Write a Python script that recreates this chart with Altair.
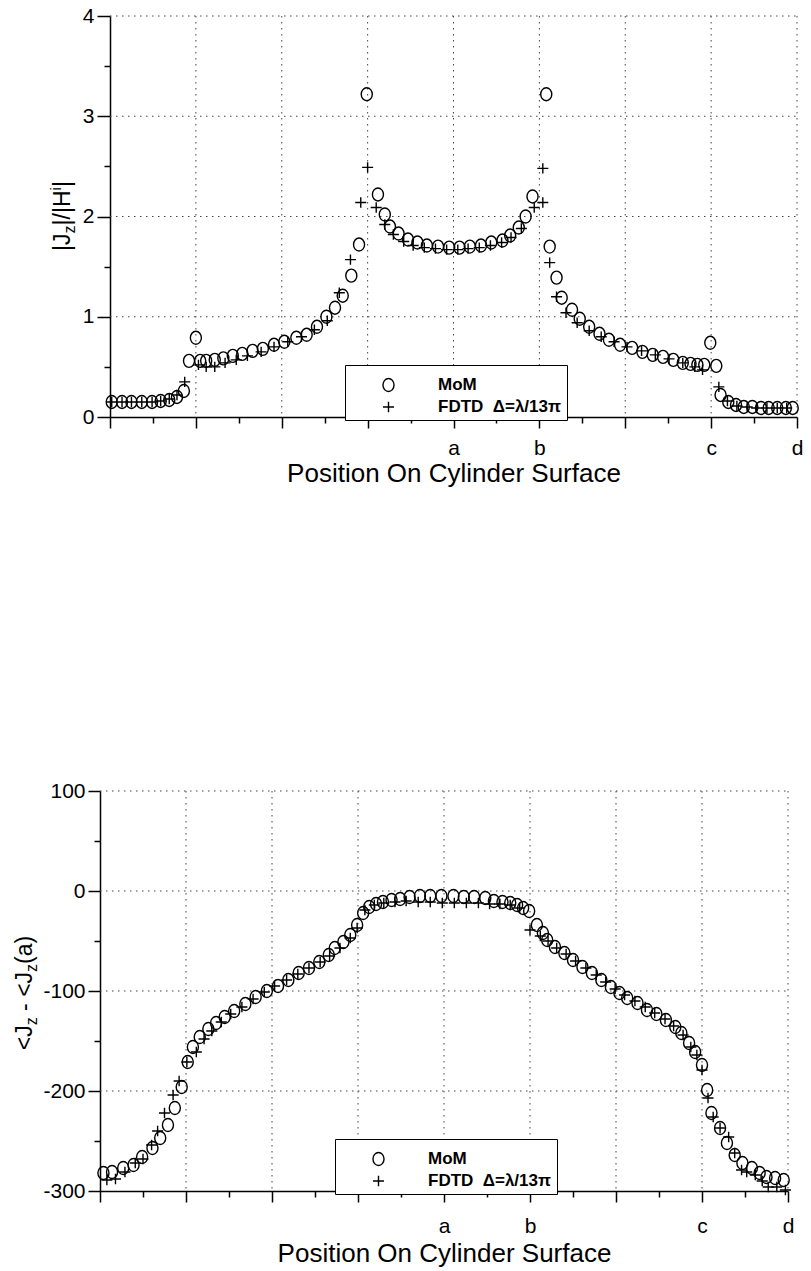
import altair as alt
import pandas as pd

# ---------------- data ----------------
# upper panel: |Jz| / |H^i| versus position (0..8, labelled a=4, b=5, c=7, d=8)
top_mom_x = [0.02, 0.14, 0.25, 0.37, 0.49, 0.59, 0.69, 0.78, 0.86, 0.92,
             1.00, 1.05, 1.12, 1.22, 1.32, 1.43, 1.54, 1.66, 1.78, 1.91,
             2.03, 2.17, 2.29, 2.41, 2.52, 2.62, 2.71, 2.81, 2.90, 2.99,
             3.12, 3.20, 3.26, 3.36, 3.47, 3.58, 3.69, 3.82, 3.95, 4.07,
             4.19, 4.32, 4.44, 4.57, 4.66, 4.76, 4.84, 4.92, 5.08, 5.12,
             5.20, 5.26, 5.38, 5.47, 5.58, 5.70, 5.81, 5.94, 6.08, 6.20,
             6.32, 6.44, 6.56, 6.67, 6.76, 6.84, 6.92, 6.99, 7.06, 7.11,
             7.20, 7.29, 7.38, 7.48, 7.58, 7.67, 7.77, 7.87, 7.95]
top_mom_y = [0.15, 0.15, 0.15, 0.15, 0.15, 0.16, 0.17, 0.20, 0.26, 0.56,
             0.79, 0.56, 0.56, 0.57, 0.585, 0.61, 0.63, 0.66, 0.68, 0.72,
             0.75, 0.79, 0.82, 0.90, 1.00, 1.09, 1.21, 1.41, 1.72, 3.22,
             2.22, 2.02, 1.90, 1.83, 1.77, 1.74, 1.71, 1.70, 1.69, 1.69,
             1.70, 1.71, 1.74, 1.76, 1.81, 1.89, 2.00, 2.20, 3.22, 1.70,
             1.39, 1.19, 1.07, 0.98, 0.90, 0.83, 0.77, 0.72, 0.69, 0.65,
             0.62, 0.60, 0.57, 0.54, 0.53, 0.52, 0.52, 0.74, 0.51, 0.22,
             0.15, 0.12, 0.10, 0.10, 0.09, 0.09, 0.09, 0.09, 0.09]
top_fdtd_x = [0.02, 0.14, 0.25, 0.37, 0.49, 0.59, 0.69, 0.78, 0.87, 1.03,
              1.12, 1.22, 1.34, 1.47, 1.60, 1.76, 1.91, 2.07, 2.23, 2.38,
              2.53, 2.67, 2.80, 2.92, 3.00, 3.10, 3.20, 3.30, 3.42, 3.53,
              3.66, 3.79, 3.92, 4.05, 4.17, 4.30, 4.43, 4.56, 4.67, 4.79,
              4.94, 5.04, 5.04, 5.12, 5.20, 5.31, 5.44, 5.58, 5.72, 5.87,
              6.02, 6.19, 6.35, 6.51, 6.67, 6.81, 6.90, 7.09, 7.19, 7.30,
              7.42, 7.53, 7.65, 7.77, 7.88]
top_fdtd_y = [0.15, 0.15, 0.15, 0.15, 0.15, 0.16, 0.18, 0.22, 0.35, 0.52,
              0.50, 0.50, 0.54, 0.57, 0.61, 0.65, 0.70, 0.75, 0.80, 0.87,
              0.96, 1.24, 1.57, 2.14, 2.49, 2.09, 1.92, 1.82, 1.75, 1.71,
              1.69, 1.68, 1.67, 1.67, 1.68, 1.69, 1.71, 1.74, 1.79, 1.88,
              2.09, 2.48, 2.14, 1.54, 1.20, 1.04, 0.94, 0.86, 0.80, 0.75,
              0.70, 0.66, 0.62, 0.58, 0.54, 0.50, 0.47, 0.30, 0.16, 0.11,
              0.10, 0.09, 0.09, 0.09, 0.09]

# lower panel: <Jz - <Jz(a) (phase, degrees)
bot_mom_x = [0.04, 0.14, 0.27, 0.39, 0.49, 0.61, 0.70, 0.79, 0.87, 0.95,
             1.02, 1.08, 1.16, 1.26, 1.35, 1.45, 1.56, 1.69, 1.81, 1.94,
             2.07, 2.19, 2.31, 2.43, 2.55, 2.66, 2.73, 2.83, 2.91, 2.99,
             3.06, 3.13, 3.21, 3.29, 3.39, 3.49, 3.60, 3.72, 3.84, 3.97,
             4.11, 4.23, 4.35, 4.48, 4.58, 4.68, 4.77, 4.85, 4.92, 4.99,
             5.08, 5.15, 5.20, 5.29, 5.40, 5.50, 5.61, 5.72, 5.83, 5.94,
             6.04, 6.13, 6.25, 6.36, 6.47, 6.58, 6.69, 6.76, 6.85, 6.92,
             7.00, 7.06, 7.11, 7.21, 7.29, 7.38, 7.47, 7.58, 7.67, 7.75,
             7.85, 7.95]
bot_mom_y = [-282, -281, -277, -274, -266, -257, -247, -234, -217, -196,
             -171, -156, -146, -138, -132, -126, -120, -113, -106, -100,
             -95, -89, -82, -77, -71, -64, -57, -51, -44, -34,
             -22, -16, -13, -11, -9, -8, -6, -5, -5, -5,
             -5, -6, -6, -7, -10, -11, -12, -14, -17, -20,
             -34, -42, -49, -56, -62, -69, -76, -82, -89, -96,
             -102, -107, -112, -119, -123, -129, -136, -142, -152, -161,
             -174, -199, -222, -237, -252, -264, -272, -277, -282, -286,
             -287, -289]
bot_fdtd_x = [0.08, 0.18, 0.29, 0.41, 0.50, 0.60, 0.67, 0.75, 0.85, 0.92,
              1.01, 1.12, 1.21, 1.30, 1.41, 1.52, 1.65, 1.78, 1.91, 2.03,
              2.17, 2.30, 2.43, 2.56, 2.67, 2.79, 2.91, 2.99, 3.08, 3.19,
              3.30, 3.43, 3.56, 3.70, 3.84, 3.98, 4.12, 4.26, 4.40, 4.53,
              4.65, 4.77, 4.88, 5.00, 5.12, 5.21, 5.31, 5.42, 5.53, 5.65,
              5.77, 5.88, 5.99, 6.10, 6.22, 6.34, 6.45, 6.57, 6.67, 6.78,
              6.87, 6.94, 7.00, 7.07, 7.13, 7.21, 7.31, 7.38, 7.46, 7.52,
              7.62, 7.70, 7.77, 7.87, 7.97]
bot_fdtd_y = [-289, -288, -281, -272, -268, -254, -240, -222, -204, -190,
              -171, -161, -148, -140, -131, -123, -116, -108, -101, -95,
              -89, -83, -77, -71, -65, -57, -47, -37, -19, -14,
              -12, -11, -10, -11, -11, -12, -12, -12, -12, -13,
              -13, -14, -17, -39, -45, -50, -57, -63, -70, -77,
              -84, -91, -98, -104, -110, -116, -122, -128, -135, -144,
              -156, -164, -179, -207, -226, -237, -246, -262, -279, -281,
              -284, -290, -296, -296, -299]

series_names = ["MoM", "FDTD\u00a0\u00a0\u0394=\u03bb/13\u03c0"]

x_domain = [0, 8]
x_major = [0, 1, 2, 3, 4, 5, 6, 7, 8]
x_minor = [0.5, 1.5, 2.5, 3.5, 4.5, 5.5, 6.5, 7.5]
x_grid = [1, 2, 3, 4, 5, 6, 7, 8]
x_label_pos = [4, 5, 7, 8]
x_label_text = ["a", "b", "c", "d"]
x_title = "Position On Cylinder Surface"

top_y_domain = [0, 4]
top_y_major = [0, 1, 2, 3, 4]
top_y_minor = [0.5, 1.5, 2.5, 3.5]
top_y_grid = [1, 2, 3, 4]

bot_y_domain = [-300, 100]
bot_y_major = [-300, -200, -100, 0, 100]
bot_y_minor = [-250, -150, -50, 50]
bot_y_grid = [-200, -100, 0, 100]

# y titles with sub/superscripts: (text, font size, baseline shift)
top_title_parts = [("|J", 23, 0), ("z", 16, 5), ("|/|H", 23, 0), ("i", 15, -9), ("|", 23, 0)]
bot_title_parts = [("<J", 23, 0), ("z", 16, 5), ("\u00a0", 23, 0), ("-", 23, 0),
                   ("\u00a0", 23, 0), ("<J", 23, 0), ("z", 16, 5), ("(a)", 23, 0)]

# ---------------- styling ----------------
FONT = "Liberation Sans"
ELLIPSE = "M0,-1A0.85,1,0,1,1,0,1A0.85,1,0,1,1,0,-1Z"
PLUS = "M-0.85,0L0.85,0M0,-0.8L0,0.8"
# approx. advance widths (em/1000) of Liberation Sans, used to place the title pieces
CHAR_W = {"|": 260, "J": 500, "/": 278, "H": 722, "z": 500, "i": 222, "<": 584,
          "\u00a0": 278, "-": 333, "(": 333, ")": 333, "a": 556}

label_expr = "''"
for p, t in reversed(list(zip(x_label_pos, x_label_text))):
    label_expr = f"datum.value == {p} ? '{t}' : ({label_expr})"


def title_layers(parts, base_x, center_y):
    widths = [sum(CHAR_W[c] for c in t) * fs / 1000.0 for t, fs, _ in parts]
    y = center_y + sum(widths) / 2.0
    layers = []
    one = pd.DataFrame({"k": [0]})
    for (t, fs, shift), w in zip(parts, widths):
        if t.strip("\u00a0"):
            layers.append(
                alt.Chart(one).mark_text(text=t, angle=270, align="left",
                                         baseline="alphabetic", fontSize=fs,
                                         font=FONT, color="black")
                .encode(x=alt.value(base_x + shift), y=alt.value(y))
            )
        y -= w
    return layers


def panel(mom_x, mom_y, fd_x, fd_y, y_domain, y_major, y_minor, y_grid,
          width, height, x_range, y_offset, min_extent, ytick, label_pad, title_pad,
          legend_x, legend_y, title_parts, title_x, title_cy):
    df = pd.concat([
        pd.DataFrame({"x": mom_x, "y": mom_y, "series": series_names[0]}),
        pd.DataFrame({"x": fd_x, "y": fd_y, "series": series_names[1]}),
    ], ignore_index=True)
    xs = alt.Scale(domain=x_domain, range=x_range, nice=False, zero=False)
    ys = alt.Scale(domain=y_domain, nice=False, zero=False)
    grid = dict(color="#444444", strokeWidth=1, strokeDash=[1.5, 4.5])

    vgrid = alt.Chart(pd.DataFrame({"g": x_grid})).mark_rule(**grid).encode(
        x=alt.X("g:Q", scale=xs, axis=None))
    hgrid = alt.Chart(pd.DataFrame({"g": y_grid, "x0": x_domain[0], "x1": x_domain[1]})
                      ).mark_rule(**grid).encode(
        x=alt.X("x0:Q", scale=xs, axis=None), x2="x1:Q",
        y=alt.Y("g:Q", scale=ys, axis=None))

    x_axis = alt.Axis(values=x_major, orient="bottom", tickSize=11, tickWidth=1.5,
                      domainWidth=1.5, labelExpr=label_expr, labelFontSize=21,
                      labelPadding=label_pad, labelFlush=False, labelOverlap=False,
                      title=x_title, titleFontSize=26, titleFontWeight="normal",
                      titlePadding=title_pad, grid=False)
    y_axis = alt.Axis(values=y_major, orient="left", offset=y_offset, tickSize=ytick,
                      tickWidth=1.5, domainWidth=1.5, labelFontSize=21, labelPadding=3,
                      labelExpr="toString(datum.value)",
                      labelFlush=False, labelOverlap=False, title=None,
                      minExtent=min_extent, grid=False)
    x_axis2 = alt.Axis(values=x_minor, orient="bottom", tickSize=6, tickWidth=1.5,
                       domain=False, labels=False, title=None, grid=False)
    y_axis2 = alt.Axis(values=y_minor, orient="left", offset=y_offset, tickSize=6,
                       tickWidth=1.5, domain=False, labels=False, title=None, grid=False)

    pts = alt.Chart(df).mark_point(filled=False, color="black", strokeWidth=1.4,
                                   size=169, opacity=1).encode(
        x=alt.X("x:Q", scale=xs, axis=x_axis),
        y=alt.Y("y:Q", scale=ys, axis=y_axis),
        shape=alt.Shape("series:N",
                        scale=alt.Scale(domain=series_names, range=[ELLIPSE, PLUS]),
                        legend=alt.Legend(
                            title=" ", titleFontSize=1, titlePadding=5.5,
                            orient="none", legendX=legend_x, legendY=legend_y,
                            padding=5, rowPadding=3, symbolOffset=30,
                            labelOffset=41, labelFontSize=17, labelFontWeight="bold",
                            labelFont=FONT, labelColor="black", labelLimit=400,
                            symbolSize=169, symbolStrokeWidth=1.4,
                            symbolStrokeColor="black",
                            strokeColor="black", fillColor="white")),
    )
    minor = alt.Chart(df).mark_point(opacity=0).encode(
        x=alt.X("x:Q", scale=xs, axis=x_axis2),
        y=alt.Y("y:Q", scale=ys, axis=y_axis2),
    )
    layers = [vgrid, hgrid, pts, minor] + title_layers(title_parts, title_x, title_cy)
    return alt.layer(*layers).resolve_axis(x="independent", y="independent").properties(
        width=width, height=height)


top = panel(top_mom_x, top_mom_y, top_fdtd_x, top_fdtd_y, top_y_domain, top_y_major,
            top_y_minor, top_y_grid, 687, 401, [0, 687], 0, 110, 13, 9, 2, 235, 349,
            top_title_parts, -40, 200)
bottom = panel(bot_mom_x, bot_mom_y, bot_fdtd_x, bot_fdtd_y, bot_y_domain, bot_y_major,
               bot_y_minor, bot_y_grid, 688, 400, [-10, 678], 10, 100, 12, 13, 4, 225, 348,
               bot_title_parts, -78, 202)

chart = alt.vconcat(top, bottom, spacing=294).resolve_scale(
    x="independent", y="independent", shape="independent"
).resolve_legend(shape="independent").properties(
    padding={"left": 0, "top": 5, "right": 5, "bottom": 5}
).configure(
    font=FONT, background="white"
).configure_view(stroke=None).configure_axis(
    labelFont=FONT, titleFont=FONT, labelColor="black", titleColor="black",
    domainColor="black", tickColor="black"
)

chart.save("out.html", embed_options={"renderer": "svg", "actions": False})
